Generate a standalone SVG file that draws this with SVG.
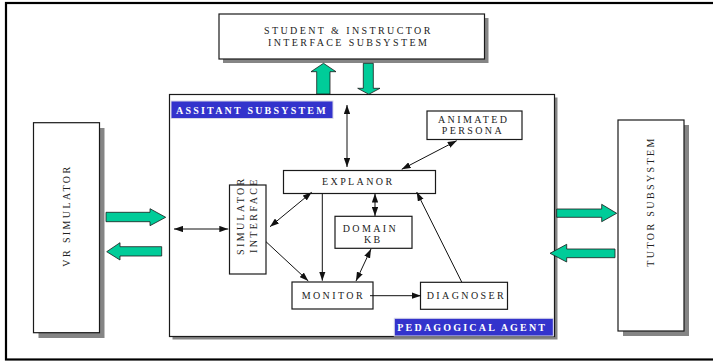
<svg xmlns="http://www.w3.org/2000/svg" width="713" height="361" viewBox="0 0 713 361">
  <style>
    .box { fill: #ffffff; stroke: #1a1a1a; stroke-width: 1.2; }
    .shadow { fill: #858585; }
    .lbl { font-family: "Liberation Serif", "Times New Roman", serif; font-size: 10px; fill: #222; letter-spacing: 2.4px; }
    .tag { fill: #3333cc; stroke: #d8d8e8; stroke-width: 1; }
    .tagtxt { font-family: "Liberation Serif", "Times New Roman", serif; font-size: 10px; font-weight: bold; fill: #ffffff; letter-spacing: 2.2px; }
    .flow { fill: #00cc99; stroke: #1a1a1a; stroke-width: 0.8; stroke-linejoin: miter; }
    .link { stroke: #111; stroke-width: 1; fill: none; }
  </style>
  <defs>
    <marker id="head" viewBox="0 0 10 7" refX="10" refY="3.5" markerWidth="9" markerHeight="6.5" markerUnits="userSpaceOnUse" orient="auto-start-reverse">
      <path d="M0,0 L10,3.5 L0,7 z" fill="#111"/>
    </marker>
  </defs>

  <!-- outer frame -->
  <rect x="6" y="3" width="712" height="356.5" fill="#ffffff" stroke="#000" stroke-width="2.2"/>

  <!-- student & instructor interface -->
  <g id="student-instructor">
    <rect class="shadow" x="223" y="18" width="265.5" height="45"/>
    <rect class="box" x="219" y="14" width="265.5" height="45"/>
    <text class="lbl" x="264" y="33.5">STUDENT &amp; INSTRUCTOR</text>
    <text class="lbl" x="268" y="45.7">INTERFACE SUBSYSTEM</text>
  </g>

  <!-- VR simulator -->
  <g id="vr-simulator">
    <rect class="shadow" x="38.5" y="128" width="66" height="210"/>
    <rect class="box" x="33.5" y="122.7" width="66" height="210"/>
    <text class="lbl" transform="translate(69.5,266.7) rotate(-90)" letter-spacing="2.5">VR SIMULATOR</text>
  </g>

  <!-- tutor subsystem -->
  <g id="tutor-subsystem">
    <rect class="shadow" x="623" y="125" width="66" height="211"/>
    <rect class="box" x="618" y="120" width="66" height="211"/>
    <text class="lbl" transform="translate(654,266.7) rotate(-90)">TUTOR SUBSYSTEM</text>
  </g>

  <!-- pedagogical agent container -->
  <g id="pedagogical-agent">
    <rect class="shadow" x="172.5" y="97.5" width="385" height="242"/>
    <rect class="box" x="169.5" y="94.5" width="385" height="242"/>
  </g>

  <g id="assistant-tag">
    <rect class="tag" x="171" y="101" width="162" height="17.5"/>
    <text class="tagtxt" x="176" y="114">ASSITANT SUBSYSTEM</text>
  </g>

  <g id="animated-persona">
    <rect class="box" x="427" y="111" width="95" height="28.5"/>
    <text class="lbl" x="438" y="122.7">ANIMATED</text>
    <text class="lbl" x="441.7" y="134">PERSONA</text>
  </g>

  <g id="explanor">
    <rect class="box" x="283.5" y="170.5" width="152" height="23"/>
    <text class="lbl" x="322" y="185.3">EXPLANOR</text>
  </g>

  <g id="simulator-interface">
    <rect class="box" x="229.5" y="185" width="36.5" height="89"/>
    <text class="lbl" transform="translate(243.5,255) rotate(-90)" font-size="9.5" letter-spacing="2.3">SIMULATOR</text>
    <text class="lbl" transform="translate(257,253) rotate(-90)" font-size="9.5" letter-spacing="2.3">INTERFACE</text>
  </g>

  <g id="domain-kb">
    <rect class="box" x="335" y="216.3" width="77" height="32"/>
    <text class="lbl" x="342.7" y="231.7">DOMAIN</text>
    <text class="lbl" x="364" y="242.7">KB</text>
  </g>

  <g id="monitor">
    <rect class="box" x="292" y="282" width="81" height="27"/>
    <text class="lbl" x="301.7" y="299">MONITOR</text>
  </g>

  <g id="diagnoser">
    <rect class="box" x="420.5" y="282.3" width="87" height="27"/>
    <text class="lbl" x="426.7" y="299">DIAGNOSER</text>
  </g>

  <g id="pedagogical-tag">
    <rect class="tag" x="394.3" y="318.3" width="159" height="17.7"/>
    <text class="tagtxt" x="397.3" y="330.7" letter-spacing="2.4">PEDAGOGICAL AGENT</text>
  </g>

  <!-- wide data-flow arrows between subsystems -->
  <g id="flows">
    <polygon class="flow" points="316.7,94 316.7,71.7 311,71.7 323.5,63.3 336,71.7 330,71.7 330,94"/>
    <polygon class="flow" points="363.3,63.3 373.3,63.3 373.3,88.3 380,88.3 368.8,94.3 357.7,88.3 363.3,88.3"/>
    <polygon class="flow" points="106,212.3 150,212.3 150,208.7 165.7,217.3 150,225.7 150,221.7 106,221.7"/>
    <polygon class="flow" points="161.7,246.7 120,246.7 120,242.7 106.7,251.7 120,260 120,256 161.7,256"/>
    <polygon class="flow" points="556.7,209 601.7,209 601.7,204.3 616.7,213.3 601.7,221.7 601.7,217.3 556.7,217.3"/>
    <polygon class="flow" points="615,249 566.7,249 566.7,244.3 550,253.3 566.7,262 566.7,257.7 615,257.7"/>
  </g>

  <!-- internal connectors -->
  <g id="connectors">
    <line class="link" x1="347" y1="105" x2="347" y2="167" marker-start="url(#head)" marker-end="url(#head)"/>
    <line class="link" x1="456.7" y1="140.7" x2="401.7" y2="169.3" marker-start="url(#head)" marker-end="url(#head)"/>
    <line class="link" x1="270" y1="226.7" x2="311.7" y2="192.3" marker-start="url(#head)" marker-end="url(#head)"/>
    <line class="link" x1="322.3" y1="193.5" x2="322.3" y2="280.7" marker-end="url(#head)"/>
    <line class="link" x1="375" y1="193.5" x2="375" y2="216" marker-start="url(#head)" marker-end="url(#head)"/>
    <line class="link" x1="371" y1="249" x2="356" y2="281" marker-start="url(#head)" marker-end="url(#head)"/>
    <line class="link" x1="266" y1="241.7" x2="308.3" y2="281" marker-end="url(#head)"/>
    <line class="link" x1="370" y1="295.7" x2="421" y2="295.7" marker-end="url(#head)"/>
    <line class="link" x1="461.7" y1="282" x2="416.7" y2="192" marker-end="url(#head)"/>
    <line class="link" x1="174" y1="229" x2="228.3" y2="229" marker-start="url(#head)" marker-end="url(#head)"/>
  </g>
</svg>
